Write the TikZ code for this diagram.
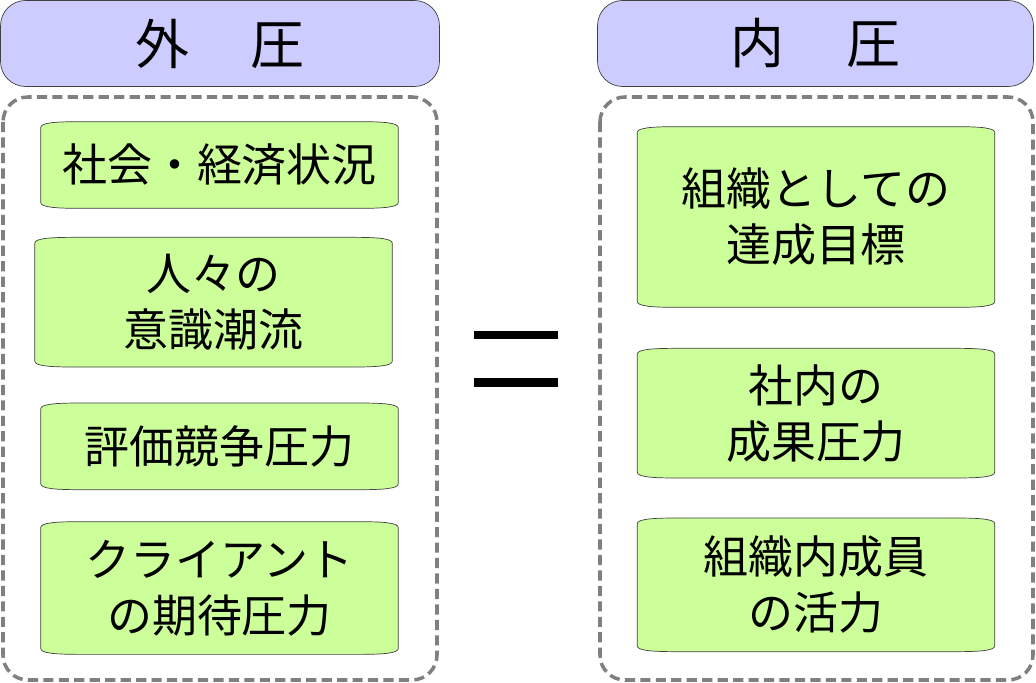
\documentclass[tikz,border=0pt]{standalone}
\usepackage{fontspec}
\setmainfont{Noto Sans CJK JP}
\usetikzlibrary{positioning,calc,backgrounds}
\definecolor{headblue}{RGB}{204,204,255}
\definecolor{boxgreen}{RGB}{204,255,153}
\definecolor{dashgray}{RGB}{128,128,128}
\definecolor{edgegray}{RGB}{64,64,64}

\begin{document}
\begin{tikzpicture}[
    x=0.02cm, y=0.02cm,
    header/.style={rectangle, rounded corners=0.5cm, draw=edgegray, fill=headblue,
                   minimum height=1.72cm, inner sep=0pt, font=\fontsize{30.7}{36}\selectfont},
    group/.style={draw=dashgray, line width=2pt, dash pattern=on 5.8pt off 3pt,
                  rounded corners=0.5cm},
    item/.style={rectangle, minimum width=7.14cm, inner sep=0pt, align=center,
                 font=\fontsize{25.6}{31.9}\selectfont},
    plaque/.style={draw=edgegray, fill=boxgreen, thin},
    bar/.style={fill=black}
]
\useasboundingbox (0,0) rectangle (1036,-683);

% Headers
\node[header, minimum width=8.78cm] (outer) at (220,-43.5) {外\hspace{1.15em}圧};
\node[header, minimum width=8.72cm] (inner) at (815.5,-43.5) {内\hspace{1.15em}圧};

% Dashed groups
\draw[group] (3,-97) rectangle (437,-680);
\draw[group] (600,-97) rectangle (1033,-680);

% External pressures
\node[item, minimum height=1.72cm] (soc) at (219.5,-165) {社会・経済状況};
\node[item, minimum height=2.58cm, below=0.58cm of soc, xshift=-0.12cm] (ppl) {人々の\\意識潮流};
\node[item, minimum height=1.72cm, below=0.72cm of ppl, xshift=0.12cm] (eval) {評価競争圧力};
\node[item, minimum height=2.64cm, below=0.64cm of eval] (cli) {クライアント\\の期待圧力};

% Internal pressures
\node[item, minimum height=3.6cm] (goal) at (816,-217) {組織としての\\達成目標};
\node[item, minimum height=2.58cm, below=0.82cm of goal] (perf) {社内の\\成果圧力};
\node[item, minimum height=2.66cm, below=0.8cm of perf] (vital) {組織内成員\\の活力};

% Plaque outlines behind the texts
\begin{scope}[on background layer]
\foreach \n in {soc,ppl,eval,cli,goal,perf,vital}{
  \draw[plaque] ($(\n.south west)+(0,6)$) -- ($(\n.north west)+(0,-6)$)
    .. controls ($(\n.north west)+(0,-1)$) and ($(\n.north west)+(15,0)$) .. ($(\n.north west)+(40,0)$)
    -- ($(\n.north east)+(-40,0)$)
    .. controls ($(\n.north east)+(-15,0)$) and ($(\n.north east)+(0,-1)$) .. ($(\n.north east)+(0,-6)$)
    -- ($(\n.south east)+(0,6)$)
    .. controls ($(\n.south east)+(0,1)$) and ($(\n.south east)+(-15,0)$) .. ($(\n.south east)+(-40,0)$)
    -- ($(\n.south west)+(40,0)$)
    .. controls ($(\n.south west)+(15,0)$) and ($(\n.south west)+(0,1)$) .. cycle;
}
\end{scope}

% Equals sign
\fill[bar] (474,-331) rectangle (558,-339);
\fill[bar] (474,-378) rectangle (558,-387);

\end{tikzpicture}
\end{document}
